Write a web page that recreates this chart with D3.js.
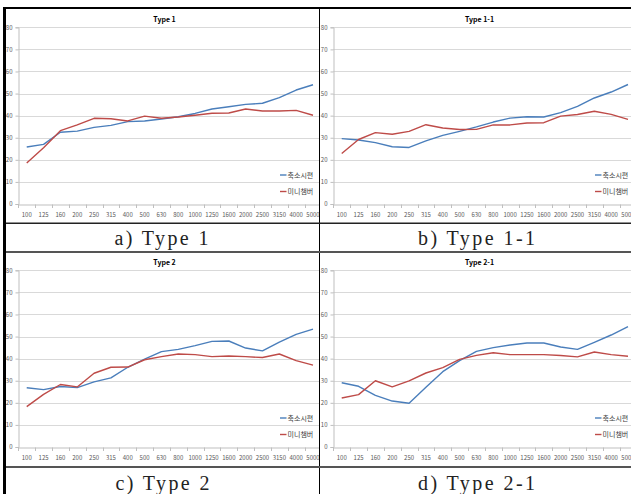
<!DOCTYPE html>
<html><head><meta charset="utf-8">
<script src="https://cdn.jsdelivr.net/npm/d3@7"></script>
<style>html,body{margin:0;padding:0;background:#fff;}svg{display:block;}</style>
</head><body>
<script>
const categories = ["100","125","160","200","250","315","400","500","630","800","1000","1250","1600","2000","2500","3150","4000","5000"];
const yTicks = [0,10,20,30,40,50,60,70,80];
const seriesNames = ["축소시편","미니챔버"];
const titles = ["Type 1","Type 1-1","Type 2","Type 2-1"];
const captions = ["a) Type 1","b) Type 1-1","c) Type 2","d) Type 2-1"];

const type1Blue = [25.8,27.0,32.5,33.0,34.7,35.6,37.3,37.6,38.5,39.5,41.0,43.0,44.0,45.1,45.6,48.2,51.6,54.0];
const type1Red  = [18.6,25.5,33.2,35.8,38.8,38.6,37.6,39.8,38.8,39.4,40.2,41.1,41.2,43.0,42.1,42.1,42.4,40.2];
const type11Blue = [29.6,29.0,27.8,25.9,25.6,28.6,31.1,32.9,34.9,37.1,38.9,39.5,39.4,41.4,44.2,48.0,50.7,54.1];
const type11Red  = [22.9,29.2,32.3,31.6,32.9,35.9,34.4,33.7,33.8,35.8,35.8,36.7,36.8,39.8,40.5,42.0,40.6,38.3];
const type2Blue = [26.8,26.0,27.4,26.9,29.5,31.3,36.1,39.8,43.2,44.2,45.9,47.8,48.0,44.8,43.5,47.5,51.0,53.4];
const type2Red  = [18.3,23.8,28.3,27.2,33.4,36.1,36.2,39.5,40.9,42.1,41.8,40.9,41.2,40.9,40.5,42.1,39.1,37.1];
const type21Blue = [29.1,27.5,23.4,20.8,19.8,27.0,34.1,39.1,43.3,45.0,46.2,47.1,47.1,45.3,44.2,47.4,50.7,54.5];
const type21Red  = [22.2,23.7,30.0,27.2,29.9,33.5,35.9,39.7,41.5,42.7,41.8,41.8,41.8,41.4,40.8,43.0,41.8,41.1];

const W = 631, H = 494;
const colors = ["#4a7ebb","#be4b48"];
const svg = d3.select("body").append("svg").attr("width", W).attr("height", H);
svg.append("rect").attr("width", W).attr("height", H).attr("fill", "#fff");
const defs = svg.append("defs");

const panels = [
  {ox:0,   oy:0,   clip:[6,9,313,214],   blue:type1Blue,  red:type1Red,  capX:161.5, capY:245},
  {ox:315, oy:0,   clip:[320,9,311,214], blue:type11Blue, red:type11Red, capX:476.5, capY:245},
  {ox:0,   oy:243, clip:[6,253,313,213], blue:type2Blue,  red:type2Red,  capX:162.5, capY:490},
  {ox:315, oy:243, clip:[320,253,311,213], blue:type21Blue, red:type21Red, capX:476.5, capY:490}
];

const smallFont = "'Noto Sans CJK KR','Noto Sans',sans-serif";

panels.forEach((p, i) => {
  const cid = "clip" + i;
  defs.append("clipPath").attr("id", cid).append("rect")
    .attr("x", p.clip[0]).attr("y", p.clip[1]).attr("width", p.clip[2]).attr("height", p.clip[3]);
  const g = svg.append("g").attr("clip-path", `url(#${cid})`);
  const ax = p.ox + 18.3;
  const x = d3.scaleBand().domain(categories).range([ax, ax + 18 * 16.84]).padding(0);
  const y = d3.scaleLinear().domain([0, 80]).range([p.oy + 204, p.oy + 27.3]);
  const cx = c => x(c) + x.bandwidth() / 2;

  // gridlines
  g.append("g").selectAll("line").data(yTicks.filter(t => t > 0)).join("line")
    .attr("x1", ax).attr("x2", ax + 18 * 16.84)
    .attr("y1", d => Math.round(y(d)) + 0.5).attr("y2", d => Math.round(y(d)) + 0.5)
    .attr("stroke", "#d9d9d9").attr("stroke-width", 1);

  // y axis
  const yAxis = d3.axisLeft(y).tickValues(yTicks).tickSize(3).tickPadding(3);
  const ya = g.append("g").attr("transform", `translate(${Math.round(ax) + 0.5},0)`).call(yAxis);
  ya.select(".domain").attr("stroke", "#bfbfbf");
  ya.selectAll(".tick line").attr("stroke", "#bfbfbf");
  ya.selectAll("text").attr("fill", "#595959").style("font-size", "6px").style("font-family", smallFont);

  // x axis
  const xAxis = d3.axisBottom(x).tickSize(0).tickPadding(8);
  const xa = g.append("g").attr("transform", `translate(0,${Math.round(y(0)) + 0.5})`).call(xAxis);
  xa.select(".domain").attr("stroke", "#bfbfbf");
  xa.selectAll("text").attr("fill", "#595959").style("font-size", "6px").style("font-family", smallFont);
  g.append("g").selectAll("line").data(d3.range(19)).join("line")
    .attr("x1", d => Math.round(ax + d * x.step()) + 0.5).attr("x2", d => Math.round(ax + d * x.step()) + 0.5)
    .attr("y1", Math.round(y(0)) + 0.5).attr("y2", Math.round(y(0)) + 4)
    .attr("stroke", "#bfbfbf");

  // lines
  const line = d3.line().x((d, k) => cx(categories[k])).y(d => y(d));
  [p.blue, p.red].forEach((s, k) => {
    g.append("path").datum(s).attr("d", line).attr("fill", "none")
      .attr("stroke", colors[k]).attr("stroke-width", 1.4).attr("stroke-linejoin", "round");
  });

  // title
  g.append("text").attr("x", p.ox + 164.5).attr("y", p.oy + 21.5).attr("text-anchor", "middle")
    .attr("font-family", smallFont).attr("font-weight", "bold").attr("font-size", 7).attr("fill", "#000")
    .text(titles[i]);

  // legend
  const ly = [p.oy + 175, p.oy + 191.5];
  seriesNames.forEach((n, k) => {
    g.append("line").attr("x1", p.ox + 280).attr("x2", p.ox + 286.5)
      .attr("y1", ly[k]).attr("y2", ly[k]).attr("stroke", colors[k]).attr("stroke-width", 1.4);
    g.append("text").attr("x", p.ox + 287.5).attr("y", ly[k] + 2.5)
      .attr("font-family", smallFont).attr("font-size", 7).attr("fill", "#404040").text(n);
  });

  // caption
  svg.append("text").attr("x", p.capX).attr("y", p.capY).attr("text-anchor", "middle")
    .attr("font-family", "'Liberation Serif','DejaVu Serif',serif").attr("font-size", 20)
    .attr("fill", "#222").attr("textLength", captions[i].length > 9 ? 117 : 94)
    .attr("lengthAdjust", "spacing").text(captions[i]);
});

// table borders
svg.append("rect").attr("x", 3).attr("y", 7).attr("width", 3).attr("height", H - 7).attr("fill", "#000");
svg.append("rect").attr("x", 3).attr("y", 7).attr("width", W - 3).attr("height", 2).attr("fill", "#000");
svg.append("rect").attr("x", 319).attr("y", 9).attr("width", 1).attr("height", H - 9).attr("fill", "#000");
svg.append("rect").attr("x", 6).attr("y", 222.5).attr("width", W - 6).attr("height", 1.5).attr("fill", "#222");
svg.append("rect").attr("x", 6).attr("y", 251).attr("width", W - 6).attr("height", 2).attr("fill", "#555");
svg.append("rect").attr("x", 6).attr("y", 466).attr("width", W - 6).attr("height", 2).attr("fill", "#555");
</script>
</body></html>
